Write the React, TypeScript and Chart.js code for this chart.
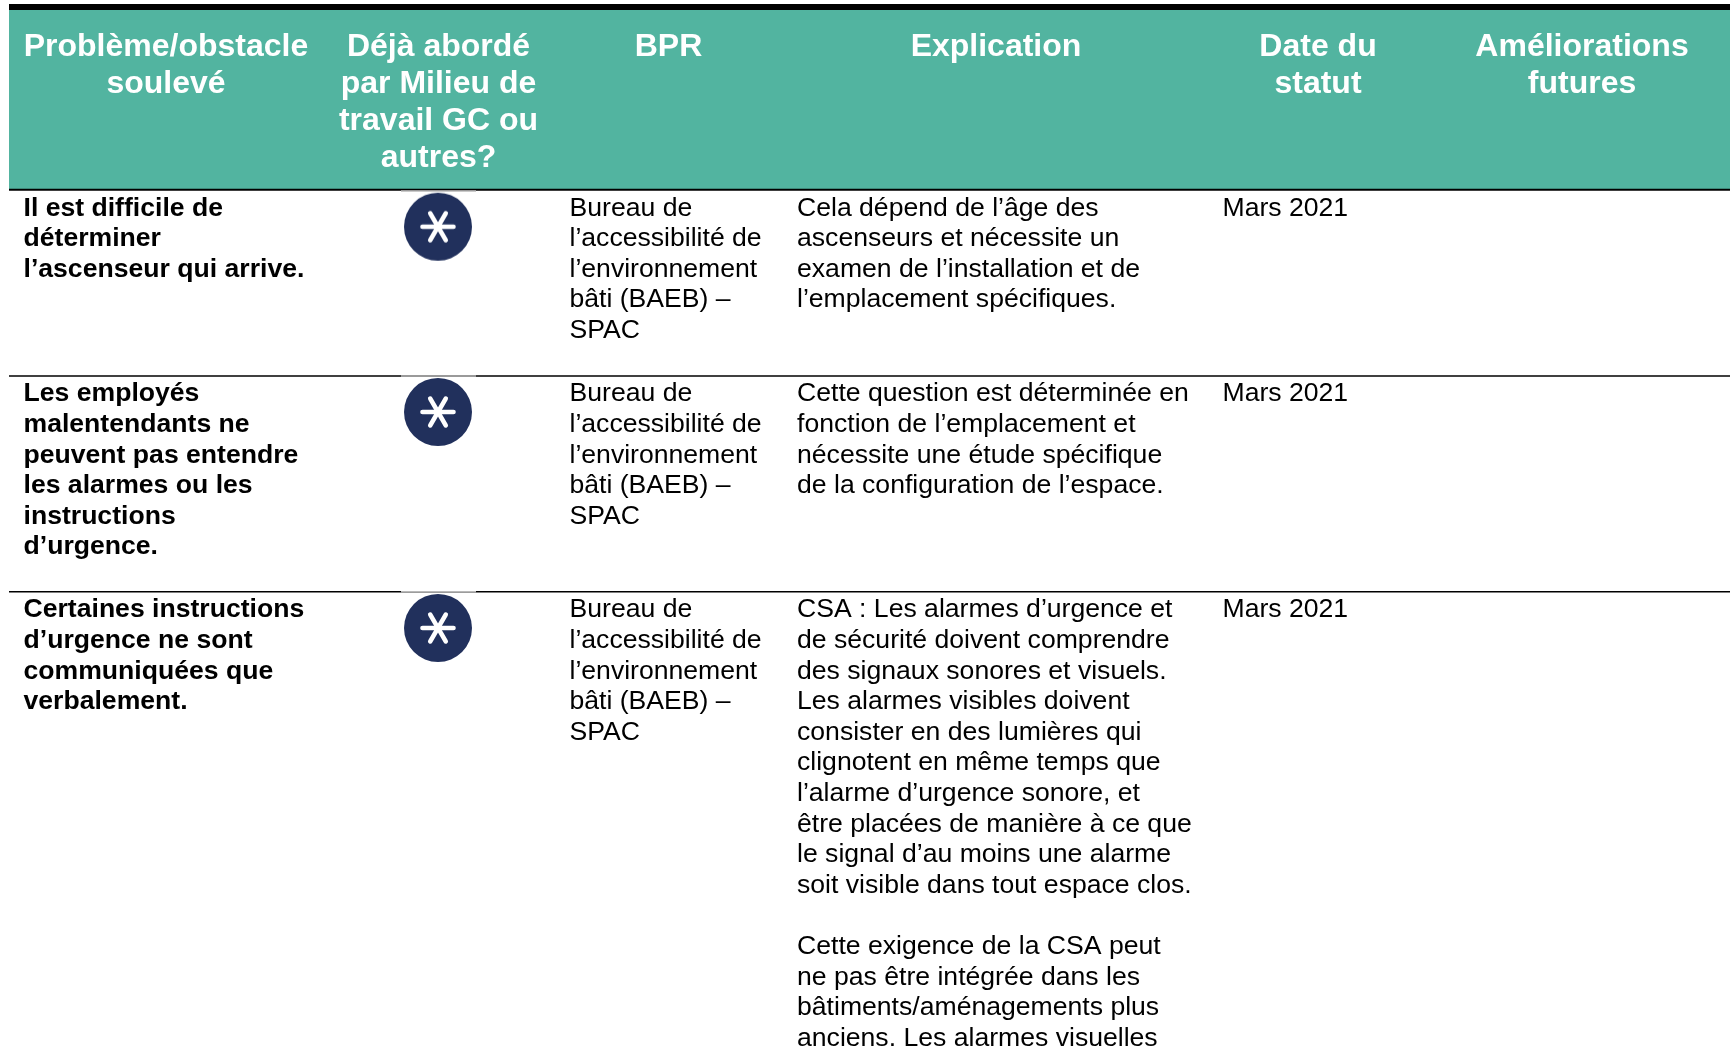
import React, { useEffect, useRef } from "react";
import { Chart, registerables } from "chart.js";

Chart.register(...registerables);

const headers: string[][] = [
  ["Problème/obstacle", "soulevé"],
  ["Déjà abordé", "par Milieu de", "travail GC ou", "autres?"],
  ["BPR"],
  ["Explication"],
  ["Date du", "statut"],
  ["Améliorations", "futures"],
];

const problems: string[][] = [
  ["Il est difficile de", "déterminer", "l’ascenseur qui arrive."],
  ["Les employés", "malentendants ne", "peuvent pas entendre", "les alarmes ou les", "instructions", "d’urgence."],
  ["Certaines instructions", "d’urgence ne sont", "communiquées que", "verbalement."],
];

const owner: string[] = ["Bureau de", "l’accessibilité de", "l’environnement", "bâti (BAEB) –", "SPAC"];

const explanations: string[][] = [
  ["Cela dépend de l’âge des", "ascenseurs et nécessite un", "examen de l’installation et de", "l’emplacement spécifiques."],
  ["Cette question est déterminée en", "fonction de l’emplacement et", "nécessite une étude spécifique", "de la configuration de l’espace."],
  [
    "CSA : Les alarmes d’urgence et", "de sécurité doivent comprendre", "des signaux sonores et visuels.",
    "Les alarmes visibles doivent", "consister en des lumières qui", "clignotent en même temps que",
    "l’alarme d’urgence sonore, et", "être placées de manière à ce que", "le signal d’au moins une alarme",
    "soit visible dans tout espace clos.", "", "Cette exigence de la CSA peut",
    "ne pas être intégrée dans les", "bâtiments/aménagements plus", "anciens. Les alarmes visuelles",
  ],
];

const dates: string[] = ["Mars 2021", "Mars 2021", "Mars 2021"];

// Layout of the table, in page pixels (the scales map 1:1 to the page).
const W = 1730;
const H = 1049;
const LEFT = 9;
const HEADER_TOP = 10;
const HEADER_BOTTOM = 189;
const ROW_RULES = [189.8, 376, 591.7];
const ROW_FIRST_LINE = [208.3, 394, 610];
const ICON_CENTER = [226.7, 412, 628];
const HEADER_CENTERS = [166, 438.5, 668.5, 996, 1318, 1582];
const HEADER_FIRST_LINE = 47.5;
const HEADER_STEP = 36.9;
const LINE_STEP = 30.6;
const COL_PROBLEM = 23.5;
const COL_ICON = 438;
const COL_OWNER = 569.5;
const COL_EXPL = 797;
const COL_DATE = 1222.5;
const ICON_R = 34;

const TEAL = "#52b4a0";
const NAVY = "#21305c";
const FAMILY = '"Liberation Sans", Arial, sans-serif';
const HEAD_FONT = `bold 32px ${FAMILY}`;
const BOLD_FONT = `bold 26.6px ${FAMILY}`;
const BODY_FONT = `26.6px ${FAMILY}`;

function makeIcon(): HTMLCanvasElement {
  const c = document.createElement("canvas");
  const s = ICON_R * 2 + 2;
  c.width = s;
  c.height = s;
  const g = c.getContext("2d")!;
  const m = s / 2;
  g.fillStyle = NAVY;
  g.beginPath();
  g.arc(m, m, ICON_R, 0, Math.PI * 2);
  g.fill();
  g.strokeStyle = "#ffffff";
  g.lineWidth = 4.6;
  g.lineCap = "round";
  for (let i = 0; i < 3; i++) {
    const a = (i * Math.PI) / 3;
    g.beginPath();
    g.moveTo(m - 15.5 * Math.cos(a), m - 15.5 * Math.sin(a));
    g.lineTo(m + 15.5 * Math.cos(a), m + 15.5 * Math.sin(a));
    g.stroke();
  }
  return c;
}

const tablePlugin = {
  id: "tableText",
  afterDatasetsDraw(chart: any) {
    const { ctx, scales } = chart;
    const px = (v: number) => scales.x.getPixelForValue(v);
    const py = (v: number) => scales.y.getPixelForValue(v);
    ctx.save();
    ctx.textBaseline = "middle";

    ctx.fillStyle = "#ffffff";
    ctx.font = HEAD_FONT;
    ctx.textAlign = "center";
    headers.forEach((lines, i) =>
      lines.forEach((t, j) => ctx.fillText(t, px(HEADER_CENTERS[i]), py(HEADER_FIRST_LINE + j * HEADER_STEP)))
    );

    ctx.fillStyle = "#000000";
    ctx.textAlign = "left";
    const cell = (lines: string[], x: number, row: number) =>
      lines.forEach((t, j) => {
        if (t) ctx.fillText(t, px(x), py(ROW_FIRST_LINE[row] + j * LINE_STEP));
      });
    problems.forEach((lines, r) => {
      ctx.font = BOLD_FONT;
      cell(lines, COL_PROBLEM, r);
      ctx.font = BODY_FONT;
      cell(owner, COL_OWNER, r);
      cell(explanations[r], COL_EXPL, r);
      cell([dates[r]], COL_DATE, r);
    });
    ctx.restore();
  },
};

export default function App() {
  const ref = useRef<HTMLCanvasElement>(null);

  useEffect(() => {
    document.body.style.margin = "0";
    document.body.style.background = "#ffffff";
    document.body.style.overflow = "hidden";
    const icon = makeIcon();
    const hline = (y: number, x0: number, x1: number, color: string, width: number, order: number) => ({
      type: "line" as const,
      data: [{ x: x0, y }, { x: x1, y }],
      borderColor: color,
      borderWidth: width,
      pointRadius: 0,
      fill: false,
      clip: false,
      order,
    });
    const chart = new Chart(ref.current!, {
      type: "scatter",
      data: {
        datasets: [
          hline((HEADER_TOP + HEADER_BOTTOM) / 2, LEFT, W, TEAL, HEADER_BOTTOM - HEADER_TOP, 5),
          hline(7, LEFT, W, "#000000", 6, 4),
          ...ROW_RULES.map((y, i) => hline(y, LEFT, W, "#000000", i === 0 ? 2 : 1.6, 3)),
          ...ROW_RULES.map((y) => hline(y + (y < 200 ? 1.2 : 0), COL_ICON - 37, COL_ICON + 38, "#b9b9b9", 1.6, 2)),
          {
            type: "scatter" as const,
            data: ICON_CENTER.map((y) => ({ x: COL_ICON, y })),
            pointStyle: icon,
            pointRadius: ICON_R,
            clip: false,
            order: 1,
          },
        ] as any,
      },
      options: {
        animation: false,
        responsive: false,
        layout: { padding: 0, autoPadding: false },
        plugins: { legend: { display: false }, tooltip: { enabled: false }, title: { display: false } },
        scales: {
          x: { type: "linear", min: 0, max: W, display: false },
          y: { type: "linear", min: 0, max: H, reverse: true, display: false },
        },
      },
      plugins: [tablePlugin],
    });
    return () => chart.destroy();
  }, []);

  return <canvas ref={ref} width={W} height={H} style={{ display: "block", position: "fixed", left: 0, top: 0 }} />;
}
